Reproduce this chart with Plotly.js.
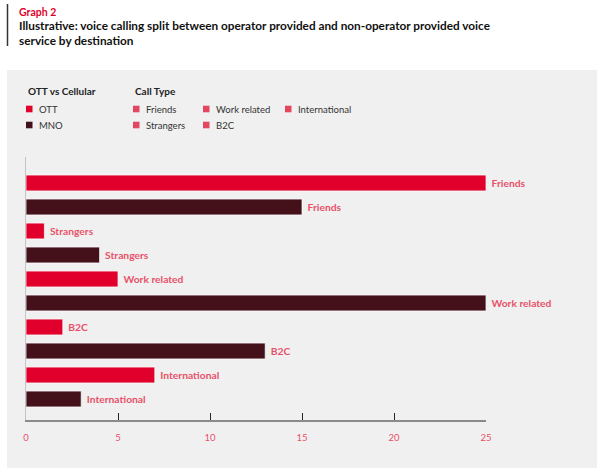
<!DOCTYPE html>
<html>
<head>
<meta charset="utf-8">
<script src="https://cdn.plot.ly/plotly-3.0.1.min.js"></script>
<style>html,body{margin:0;padding:0;background:#fff;}#chart{width:606px;height:475px;}</style>
</head>
<body>
<div id="chart"></div>
<script>
// ---- data ----
var callTypes = ["Friends", "Strangers", "Work related", "B2C", "International"];
var ottValues = [25, 1, 5, 2, 7];
var mnoValues = [15, 4, 25, 13, 3];
var seriesNames = ["OTT", "MNO"];
var legendGroupTitles = ["OTT vs Cellular", "Call Type"];
var xTicks = [0, 5, 10, 15, 20, 25];

// ---- styles ----
var OTT_COLOR = "#e0002b";
var MNO_COLOR = "#44111b";
var TYPE_COLOR = "#e2475f";
var LABEL_COLOR = "#e8506a";
var FONT = "Lato, 'Open Sans', sans-serif";

// rows: each call type has an OTT row followed by an MNO row
var rowOrder = [];
callTypes.forEach(function (c) { rowOrder.push(c + "|OTT"); rowOrder.push(c + "|MNO"); });

function barTrace(name, values, suffix, color) {
  return {
    type: "bar", orientation: "h", name: name,
    y: callTypes.map(function (c) { return c + "|" + suffix; }),
    x: values,
    text: callTypes.map(function (c) { return "\u00a0" + c; }),
    textposition: "outside",
    constraintext: "none",
    cliponaxis: false,
    textfont: {family: FONT, size: 10.3, color: LABEL_COLOR, weight: "bold"},
    marker: {color: color, line: {color: "rgba(255,255,255,0.7)", width: 1}},
    width: 0.66,
    hoverinfo: "x+name"
  };
}
var ottTrace = barTrace(seriesNames[0], ottValues, "OTT", OTT_COLOR);
var mnoTrace = barTrace(seriesNames[1], mnoValues, "MNO", MNO_COLOR);

// pixel -> paper helpers (plot area: x 26..486, y 157..420)
var L = 26, R = 486, T = 157, B = 420;
function px(x) { return (x - L) / (R - L); }
function py(y) { return (B - y) / (B - T); }

var shapes = [
  {type: "rect", xref: "paper", yref: "paper", x0: px(7), x1: px(597), y0: py(468), y1: py(70),
   fillcolor: "#f0f0f0", line: {width: 0}, layer: "below"},
  {type: "line", xref: "paper", yref: "paper", x0: px(7.5), x1: px(7.5), y0: py(4), y1: py(46),
   line: {color: "#333", width: 1.5}}
];
var annotations = [
  {xref: "paper", yref: "paper", x: px(17), y: py(12), xanchor: "left", yanchor: "middle",
   text: "Graph 2", showarrow: false, font: {family: FONT, size: 10.5, color: OTT_COLOR, weight: "bold"}},
  {xref: "paper", yref: "paper", x: px(17), y: py(33), xanchor: "left", yanchor: "middle", align: "left",
   text: "Illustrative: voice calling split between operator provided and non-operator provided voice<br>service by destination",
   showarrow: false, font: {family: FONT, size: 11.8, color: "#111", weight: "bold"}}
];

// legend (drawn as text + swatches)
function legendTitle(txt, x, y) {
  annotations.push({xref: "paper", yref: "paper", x: px(x), y: py(y), xanchor: "left", yanchor: "middle",
    text: txt, showarrow: false, font: {family: FONT, size: 10, color: "#222", weight: "bold"}});
}
function legendItem(txt, color, x, y) {
  shapes.push({type: "rect", xref: "paper", yref: "paper", x0: px(x), x1: px(x + 6.5),
    y0: py(y + 3.3), y1: py(y - 3.3), fillcolor: color, line: {width: 0}});
  annotations.push({xref: "paper", yref: "paper", x: px(x + 11), y: py(y), xanchor: "left", yanchor: "middle",
    text: txt, showarrow: false, font: {family: FONT, size: 9.5, color: "#333"}});
}
legendTitle(legendGroupTitles[0], 26, 91);
legendItem(seriesNames[0], OTT_COLOR, 26, 109);
legendItem(seriesNames[1], MNO_COLOR, 26, 125);
legendTitle(legendGroupTitles[1], 133, 91);
var typePos = [[133, 109], [133, 125], [203, 109], [203, 125], [285, 109]];
callTypes.forEach(function (c, i) { legendItem(c, TYPE_COLOR, typePos[i][0], typePos[i][1]); });

var layout = {
  width: 606, height: 475,
  margin: {l: L, r: 606 - R, t: T, b: 475 - B, pad: 0},
  paper_bgcolor: "#ffffff",
  plot_bgcolor: "rgba(0,0,0,0)",
  barmode: "overlay",
  showlegend: false,
  font: {family: FONT},
  xaxis: {
    range: [0, 25], tickvals: xTicks, ticktext: xTicks.map(String),
    showgrid: false, zeroline: false,
    showline: true, linecolor: "#8a8a8a", linewidth: 1.5,
    ticks: "inside", ticklen: 7, tickwidth: 1, tickcolor: "#222",
    ticklabelstandoff: 8,
    tickfont: {family: FONT, size: 9.5, color: LABEL_COLOR},
    fixedrange: true
  },
  yaxis: {
    type: "category", categoryorder: "array", categoryarray: rowOrder,
    range: [9.875, -1.083],
    showticklabels: false, showgrid: false, zeroline: false, ticks: "",
    showline: true, linecolor: "#c4c4c4", linewidth: 1,
    fixedrange: true
  },
  shapes: shapes,
  annotations: annotations
};

Plotly.newPlot("chart", [ottTrace, mnoTrace], layout, {displayModeBar: false, staticPlot: true});
</script>
</body>
</html>
